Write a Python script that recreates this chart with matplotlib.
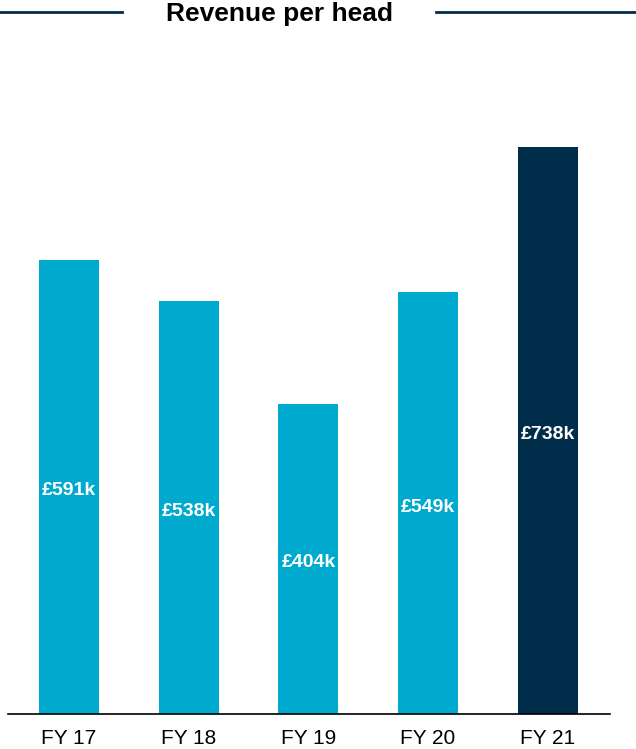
import matplotlib.pyplot as plt
from matplotlib.lines import Line2D

plt.rcParams['font.family'] = ['Liberation Sans', 'DejaVu Sans']

years = ['FY 17', 'FY 18', 'FY 19', 'FY 20', 'FY 21']
revenue_k = [591, 538, 404, 549, 738]
labels = ['£591k', '£538k', '£404k', '£549k', '£738k']

light = '#00A9CE'
dark = '#002D4A'
colors = [light, light, light, light, dark]

W, H = 636, 749
fig = plt.figure(figsize=(W / 100, H / 100), dpi=100)

# axes in pixel terms: left 8, right 610, bottom at y=714, top at y=60
ax = fig.add_axes([8 / W, (H - 714) / H, (610 - 8) / W, (714 - 60) / H])
x = list(range(len(years)))
bars = ax.bar(x, revenue_k, width=0.5, color=colors)
ax.set_xlim(-0.51, 4.52)
ax.set_ylim(0, 654 / 0.768)

# value labels sit a little below the middle of each bar
for b, v, lab in zip(bars, revenue_k, labels):
    ax.text(b.get_x() + b.get_width() / 2, v / 2 - 5, lab, ha='center', va='center',
            color='white', fontsize=14, fontweight='bold')

for s in ['top', 'right', 'left']:
    ax.spines[s].set_visible(False)
ax.spines['bottom'].set_color('black')
ax.spines['bottom'].set_linewidth(1.2)
ax.set_yticks([])
ax.set_xticks(x)
ax.set_xticklabels(years, fontsize=15)
ax.tick_params(axis='x', length=0, pad=11)

# title with rules either side
fig.text(279 / W, 1 - 14 / H, 'Revenue per head', ha='center', va='center',
         fontsize=19, fontweight='bold')
fig.add_artist(Line2D([0, 122 / W], [1 - 12 / H] * 2, color=dark, lw=2))
fig.add_artist(Line2D([436 / W, 1], [1 - 12 / H] * 2, color=dark, lw=2))

fig.savefig('out.png', dpi=100)
